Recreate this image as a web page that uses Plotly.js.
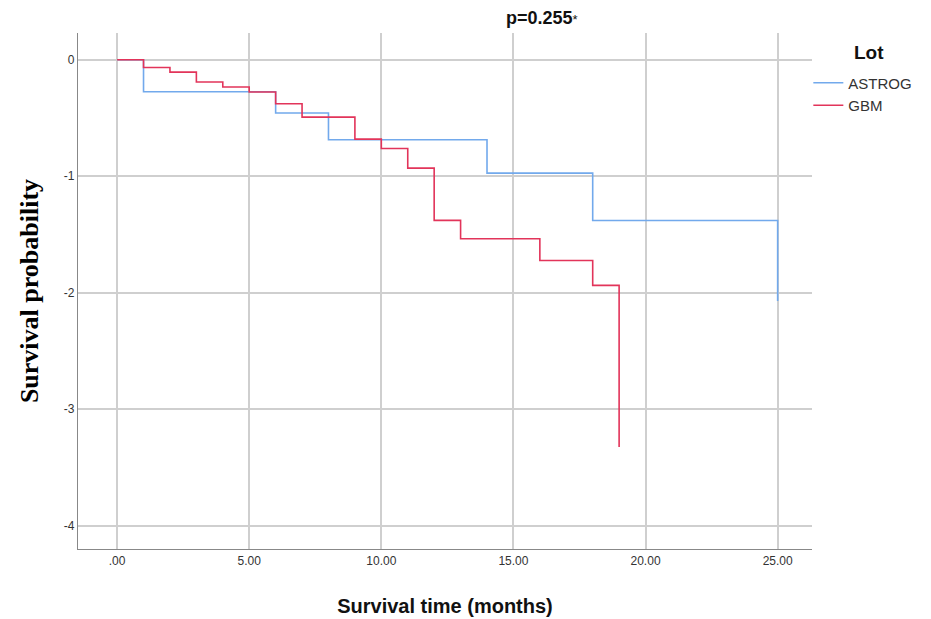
<!DOCTYPE html>
<html>
<head>
<meta charset="utf-8">
<script src="https://cdn.plot.ly/plotly-3.0.1.min.js"></script>
<style>html,body{margin:0;padding:0;background:#fff;}#chart{width:931px;height:619px;}</style>
</head>
<body>
<div id="chart"></div>
<script>
const astrogTime = [0, 1, 6, 8, 14, 18, 25];
const astrogValue = [0, -0.275, -0.457, -0.687, -0.973, -1.38, -2.07];
const gbmTime = [0, 1, 2, 3, 4, 5, 6, 7, 9, 10, 11, 12, 13, 16, 18, 19];
const gbmValue = [0, -0.066, -0.106, -0.191, -0.234, -0.277, -0.378, -0.492, -0.681, -0.761, -0.930, -1.379, -1.536, -1.723, -1.937, -3.324];
const xTickVals = [0, 5, 10, 15, 20, 25];
const xTickText = ['.00', '5.00', '10.00', '15.00', '20.00', '25.00'];
const yTickVals = [0, -1, -2, -3, -4];
const yTickText = ['0', '-1', '-2', '-3', '-4'];

const traces = [
  {x: astrogTime, y: astrogValue, name: 'ASTROG', mode: 'lines', line: {shape: 'hv', color: '#72A9EC', width: 1.6}},
  {x: gbmTime, y: gbmValue, name: 'GBM', mode: 'lines', line: {shape: 'hv', color: '#E2345A', width: 1.6}}
];

const layout = {
  width: 931, height: 619,
  paper_bgcolor: '#fff', plot_bgcolor: '#fff',
  margin: {l: 78, r: 119, t: 33, b: 70},
  font: {family: 'Liberation Sans, Arial, sans-serif', color: '#333'},
  title: {text: '<b>p=0.255</b><span style="font-size:13px">*</span>', font: {size: 18, color: '#111', family: 'Liberation Sans, Arial, sans-serif'}, x: 0.582, xanchor: 'center', y: 0.972, yanchor: 'middle'},
  xaxis: {
    range: [-1.48, 26.3], tickvals: xTickVals, ticktext: xTickText,
    showgrid: true, gridcolor: '#cfcfcf', gridwidth: 2, zeroline: false,
    showline: true, linecolor: '#888', linewidth: 1.2,
    ticks: '', tickfont: {size: 12, color: '#333'},
    title: {text: '<b>Survival time (months)</b>', font: {size: 20, color: '#111'}, standoff: 32}
  },
  yaxis: {
    range: [-4.2, 0.23], tickvals: yTickVals, ticktext: yTickText,
    showgrid: true, gridcolor: '#cfcfcf', gridwidth: 2, zeroline: false,
    showline: true, linecolor: '#888', linewidth: 1.2,
    ticks: '', tickfont: {size: 12, color: '#333'},
    title: {text: '<b>Survival probability</b>', font: {size: 26, color: '#000', family: 'Liberation Serif, Times New Roman, serif'}, standoff: 17}
  },
  showlegend: true,
  legend: {
    x: 0.995, xanchor: 'left', y: 0.935, yanchor: 'top',
    font: {size: 15, color: '#333'},
    itemwidth: 30, tracegroupgap: 0, bgcolor: 'rgba(0,0,0,0)'
  },
  annotations: [
    {text: '<b>Lot</b>', xref: 'paper', yref: 'paper', x: 1.077, y: 0.963, xanchor: 'center', yanchor: 'middle', showarrow: false, font: {size: 19, color: '#111'}}
  ]
};

Plotly.newPlot('chart', traces, layout, {displayModeBar: false, staticPlot: true});
</script>
</body>
</html>
